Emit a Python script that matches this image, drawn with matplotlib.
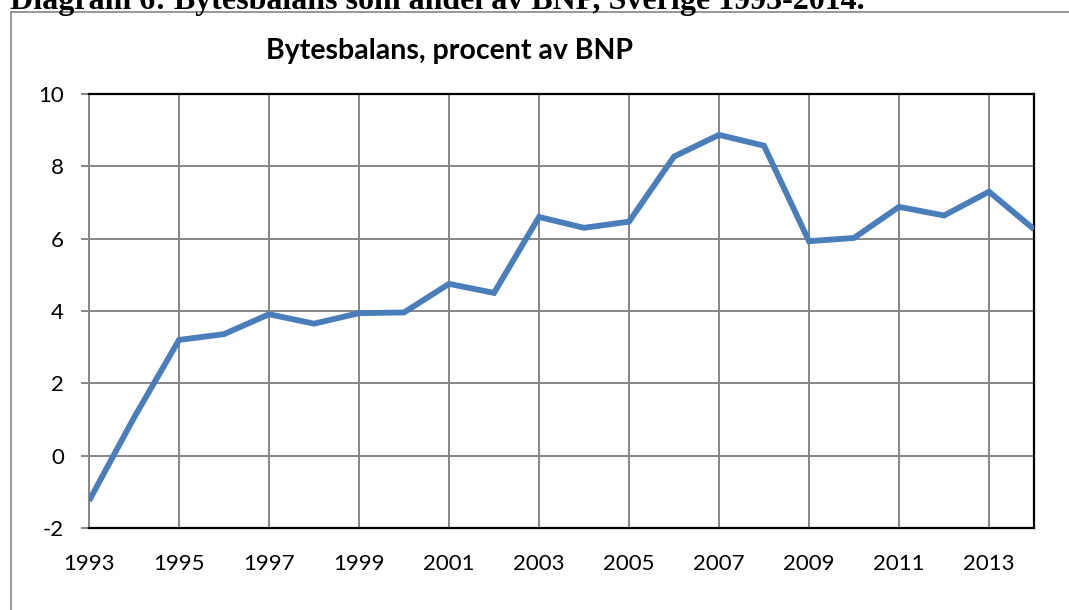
import numpy as np
import matplotlib.pyplot as plt
from matplotlib.patches import Rectangle

# Bytesbalans i procent av BNP, Sverige
years = np.arange(1993, 2015)
bytesbalans = [-1.25, 1.05, 3.2, 3.36, 3.91, 3.65, 3.94, 3.96, 4.75, 4.5,
               6.6, 6.3, 6.47, 8.27, 8.87, 8.57, 5.93, 6.02, 6.88, 6.64,
               7.3, 6.26]
x_ticks = np.arange(1993, 2015, 2)
y_ticks = np.arange(-2, 11, 2)

W, H = 1069, 610
fig = plt.figure(figsize=(W / 100, H / 100), dpi=100)

# rubrik ovanför diagramramen (avklippt upptill)
fig.text(10 / W, 1 - 9 / H, "Diagram 6: Bytesbalans som andel av BNP, Sverige 1993-2014.",
         family="Liberation Serif", weight="bold", fontsize=23, va="baseline", ha="left")

# diagramramen
fig.patches.append(Rectangle((11 / W, -0.1), 1.2, 1.1 - 12.5 / H, transform=fig.transFigure,
                             fill=False, edgecolor="#868686", linewidth=1.2, clip_on=False))

ax = fig.add_axes([89 / W, 82 / H, 945 / W, 434 / H])
ax.plot(years, bytesbalans, color="#4A7EBB", linewidth=4.2, solid_capstyle="butt",
        solid_joinstyle="miter", zorder=3)

ax.set_xlim(1993, 2014)
ax.set_ylim(-2, 10)
ax.set_xticks(x_ticks)
ax.set_yticks(y_ticks)
ax.set_xticklabels([str(y) for y in x_ticks], family="Lato", fontsize=16)
ax.set_yticklabels([str(v) for v in y_ticks], family="Lato", fontsize=16)
ax.grid(True, color="#868686", linewidth=1.4)
ax.set_axisbelow(True)
ax.tick_params(axis="x", length=0, pad=19)
ax.tick_params(axis="y", length=6, width=1.4, color="#868686", pad=12)

for side in ["top", "right", "bottom"]:
    ax.spines[side].set_color("black")
    ax.spines[side].set_linewidth(1.6)
ax.spines["left"].set_color("#868686")
ax.spines["left"].set_linewidth(1.4)

fig.text(450 / W, 1 - 51 / H, "Bytesbalans, procent av BNP", family="Lato", weight="bold",
         fontsize=20.5, ha="center", va="center")

fig.savefig("out.png", dpi=100)
